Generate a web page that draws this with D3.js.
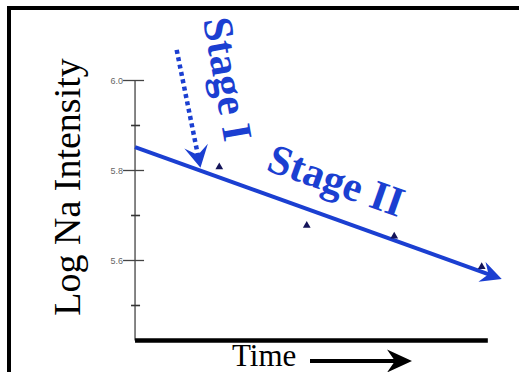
<!DOCTYPE html>
<html>
<head>
<meta charset="utf-8">
<script src="https://cdn.jsdelivr.net/npm/d3@7"></script>
<style>
  body { margin: 0; background: #fff; }
  svg { display: block; }
</style>
</head>
<body>
<svg id="chart" width="519" height="372"></svg>
<script>
// measured points (time steps, log Na intensity)
var times = [1, 2, 3, 4];
var logNa = [5.808, 5.678, 5.654, 5.586];

// y axis ticks
var majorTicks = [6.0, 5.8, 5.6];
var minorTicks = [5.9, 5.7, 5.5];

// stage II trend line (start, end)
var trendTimes = [0.037, 4.229];
var trendValues = [5.852, 5.559];

// stage I pointer arrow (start, end)
var stage1Times = [0.513, 0.785];
var stage1Values = [6.068, 5.806];

var blue = "#1b3fd1";
var serif = "'Liberation Serif', 'Times New Roman', serif";

var svg = d3.select("#chart");

// x: time (no ticks), y: log intensity
var x = d3.scaleLinear().domain([0, 4]).range([131.8, 481.7]);
var y = d3.scaleLinear().domain([5.6, 6.0]).range([260.5, 80.5]);

var tMin = 0.037, tMax = 4.07, yMin = 5.4222, yMax = 6.0;

// frame (only top and left edge visible)
svg.append("rect")
    .attr("x", 9).attr("y", 8)
    .attr("width", 540).attr("height", 400)
    .attr("fill", "none")
    .attr("stroke", "#000")
    .attr("stroke-width", 4);

// y axis
var g = svg.append("g");
g.append("line")
    .attr("x1", x(tMin)).attr("x2", x(tMin))
    .attr("y1", y(yMax)).attr("y2", y(yMin))
    .attr("stroke", "#444").attr("stroke-width", 1.3);

g.selectAll(".major").data(majorTicks).enter().append("line")
    .attr("x1", x(tMin) - 12).attr("x2", x(tMin) + 9)
    .attr("y1", function(d) { return y(d); })
    .attr("y2", function(d) { return y(d); })
    .attr("stroke", "#444").attr("stroke-width", 1.3);

g.selectAll(".minor").data(minorTicks).enter().append("line")
    .attr("x1", x(tMin) - 4).attr("x2", x(tMin) + 5)
    .attr("y1", function(d) { return y(d); })
    .attr("y2", function(d) { return y(d); })
    .attr("stroke", "#333").attr("stroke-width", 1.6);

g.selectAll(".lbl").data(majorTicks).enter().append("text")
    .attr("x", x(tMin) - 12)
    .attr("y", function(d) { return y(d); })
    .attr("dy", "0.35em")
    .attr("text-anchor", "end")
    .attr("font-family", "'Liberation Sans', Arial, sans-serif")
    .attr("font-size", 9)
    .attr("fill", "#666")
    .text(function(d) { return d3.format(".1f")(d); });

// x axis (thick bar)
g.append("line")
    .attr("x1", x(tMin)).attr("x2", x(tMax))
    .attr("y1", y(yMin)).attr("y2", y(yMin))
    .attr("stroke", "#000").attr("stroke-width", 4.5);

// axis titles
svg.append("text")
    .attr("transform", "translate(80," + 187 + ") rotate(-90)")
    .attr("text-anchor", "middle")
    .attr("font-family", serif)
    .attr("font-size", 38)
    .attr("fill", "#000")
    .text("Log Na Intensity");

svg.append("text")
    .attr("x", 232).attr("y", 366)
    .attr("font-family", serif)
    .attr("font-size", 31)
    .attr("fill", "#000")
    .text("Time");

//draw a line ending in a barbed arrow head
var arrow = function(x1, y1, x2, y2, opts) {
    var ang = Math.atan2(y2 - y1, x2 - x1);
    var c = Math.cos(ang), s = Math.sin(ang);
    var len = opts.len, half = opts.half, notch = opts.notch;
    var nx = x2 - (len - notch) * c, ny = y2 - (len - notch) * s;
    svg.append("line")
        .attr("x1", x1).attr("y1", y1)
        .attr("x2", nx + c).attr("y2", ny + s)
        .attr("stroke", opts.color)
        .attr("stroke-width", opts.width)
        .style("stroke-dasharray", opts.dash || null);
    var bx = x2 - len * c, by = y2 - len * s;
    var pts = [
        [x2, y2],
        [bx - half * s, by + half * c],
        [nx, ny],
        [bx + half * s, by - half * c]
    ];
    svg.append("path")
        .attr("d", "M" + pts.join("L") + "Z")
        .attr("fill", opts.color);
};

// time arrow next to the axis title
arrow(310, 361, 412, 361, {len: 25, half: 11.5, notch: 8, color: "#000", width: 4});

// stage II trend line
arrow(x(trendTimes[0]), y(trendValues[0]), x(trendTimes[1]), y(trendValues[1]),
    {len: 21, half: 10.5, notch: 7, color: blue, width: 4});

// stage I dotted pointer
arrow(x(stage1Times[0]), y(stage1Values[0]), x(stage1Times[1]), y(stage1Values[1]),
    {len: 22, half: 12, notch: 9, color: blue, width: 4.5, dash: "4,3.5"});

// data points
svg.selectAll(".pt")
    .data(times)
    .enter().append("path")
    .attr("d", d3.symbol().type(d3.symbolTriangle).size(26))
    .attr("transform", function(d, i) {
        return "translate(" + x(d) + "," + y(logNa[i]) + ")";
    })
    .attr("fill", "#14145a");

// stage labels
svg.append("text")
    .attr("transform", "translate(203,20) rotate(80)")
    .attr("font-family", serif)
    .attr("font-weight", "bold")
    .attr("font-style", "normal")
    .attr("font-size", 42)
    .attr("fill", blue)
    .text("Stage I");

svg.append("text")
    .attr("transform", "translate(265,170) rotate(19.5)")
    .attr("font-family", serif)
    .attr("font-weight", "bold")
    .attr("font-style", "normal")
    .attr("font-size", 42)
    .attr("fill", blue)
    .text("Stage II");
</script>
</body>
</html>
